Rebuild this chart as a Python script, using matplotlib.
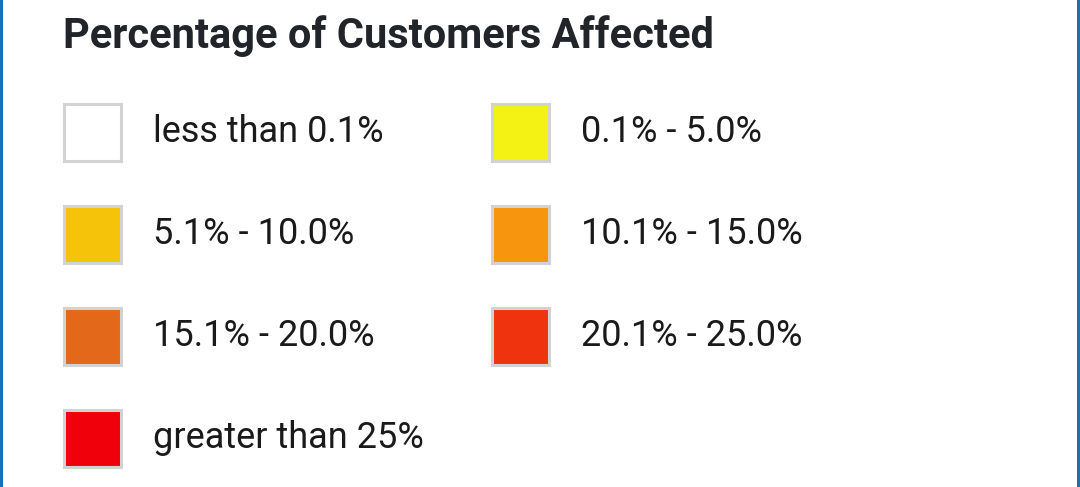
import matplotlib.pyplot as plt
from matplotlib.patches import Rectangle

title = 'Percentage of Customers Affected'
labels = ['less than 0.1%', '0.1% - 5.0%',
          '5.1% - 10.0%', '10.1% - 15.0%',
          '15.1% - 20.0%', '20.1% - 25.0%',
          'greater than 25%']
colors = ['#ffffff', '#f3f214', '#f4c30a', '#f7950f',
          '#e4681a', '#f0330f', '#f0000a']

W, H = 1080, 487
fig = plt.figure(figsize=(W / 100, H / 100), dpi=100)
ax = fig.add_axes([0, 0, 1, 1])
ax.set_xlim(0, W)
ax.set_ylim(H, 0)
ax.axis('off')

# blue side borders
ax.add_patch(Rectangle((0, 0), 3, H, facecolor='#1a72b5', edgecolor='none'))
ax.add_patch(Rectangle((W - 3, 0), 3, H, facecolor='#1a72b5', edgecolor='none'))

ax.text(63, 48, title, fontsize=30, fontweight='bold', family='Roboto',
        color='#212529', va='baseline', ha='left')

col_x = [64, 492]
row_top = 104
row_step = 102
box = 57
for i, (lab, c) in enumerate(zip(labels, colors)):
    r, k = divmod(i, 2)
    x = col_x[k]
    y = row_top + r * row_step
    ax.add_patch(Rectangle((x, y), box, box, facecolor=c,
                           edgecolor='#d2d2d2', linewidth=2.2))
    ax.text(x + 89, y + 38, lab, fontsize=26, family='Roboto',
            color='#1a1a1a', va='baseline', ha='left')

fig.savefig('out.png', dpi=100, facecolor='white')
